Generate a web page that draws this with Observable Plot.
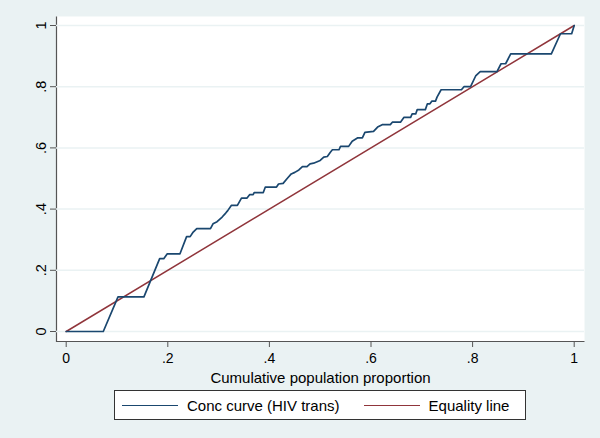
<!DOCTYPE html>
<html>
<head>
<meta charset="utf-8">
<script src="https://cdn.jsdelivr.net/npm/d3@7"></script>
<script src="https://cdn.jsdelivr.net/npm/@observablehq/plot@0.6"></script>
<style>
  html, body { margin: 0; padding: 0; background: #eaf2f3; }
  body { width: 600px; height: 438px; overflow: hidden; position: relative; font-family: "Liberation Sans", Arial, sans-serif; }
  #legend { position: absolute; left: 114px; top: 390px; width: 410px; height: 28px; background: #fff; border: 1px solid #333;
    display: flex; align-items: center; font-size: 15px; color: #000; box-sizing: content-box; white-space: nowrap; }
  #legend .sw { display: inline-block; width: 56px; height: 0; border-top: 1.6px solid; margin-right: 9px; }
  #legend .item { display: flex; align-items: center; }
</style>
</head>
<body>
<div id="chart"></div>
<div id="legend"></div>
<script>
// Concentration curve (HIV trans): cumulative population proportion vs cumulative share
const concX = [0, 0.073, 0.102, 0.153, 0.184, 0.192, 0.199, 0.224, 0.237, 0.244, 0.250, 0.257, 0.284, 0.289, 0.297, 0.307, 0.314, 0.318,
  0.325, 0.337, 0.345, 0.356, 0.361, 0.368, 0.370, 0.388, 0.392, 0.414, 0.418, 0.427, 0.435, 0.443, 0.450, 0.458, 0.465, 0.474,
  0.480, 0.487, 0.500, 0.507, 0.514, 0.520, 0.524, 0.537, 0.540, 0.556, 0.563, 0.574, 0.583, 0.588, 0.605, 0.613, 0.622, 0.638,
  0.642, 0.658, 0.665, 0.678, 0.681, 0.688, 0.691, 0.707, 0.711, 0.716, 0.720, 0.727, 0.730, 0.738, 0.778, 0.783, 0.796, 0.806,
  0.815, 0.848, 0.856, 0.865, 0.875, 0.955, 0.973, 0.995, 1];
const concY = [0, 0, 0.113, 0.113, 0.238, 0.238, 0.254, 0.254, 0.310, 0.310, 0.325, 0.336, 0.336, 0.352, 0.359, 0.374, 0.387, 0.395,
  0.412, 0.412, 0.436, 0.436, 0.447, 0.447, 0.454, 0.454, 0.472, 0.472, 0.482, 0.484, 0.500, 0.515, 0.520, 0.528, 0.539, 0.539,
  0.548, 0.550, 0.559, 0.570, 0.572, 0.586, 0.594, 0.594, 0.605, 0.605, 0.622, 0.633, 0.633, 0.651, 0.654, 0.668, 0.676, 0.676,
  0.684, 0.684, 0.700, 0.700, 0.711, 0.711, 0.725, 0.725, 0.744, 0.744, 0.753, 0.753, 0.766, 0.790, 0.790, 0.800, 0.800, 0.835,
  0.849, 0.849, 0.875, 0.875, 0.907, 0.907, 0.973, 0.973, 1];
// Equality line
const eqX = [0, 1];
const eqY = [0, 1];
const tickValues = [0, 0.2, 0.4, 0.6, 0.8, 1];
const tickLabels = ["0", ".2", ".4", ".6", ".8", "1"];
const seriesNames = ["Conc curve (HIV trans)", "Equality line"];
const seriesColors = ["#1a476f", "#90353b"];

const conc = concX.map((x, i) => ({x, y: concY[i]}));
const eq = eqX.map((x, i) => ({x, y: eqY[i]}));
const fmt = d => tickLabels[tickValues.indexOf(d)];

const W = 600, H = 438;
const mL = 56, mR = 16, mT = 16, mB = 97;
const plotW = W - mL - mR, plotH = H - mT - mB;

const chart = Plot.plot({
  width: W, height: H,
  marginLeft: mL, marginRight: mR, marginTop: mT, marginBottom: mB,
  style: {background: "transparent", fontFamily: "Liberation Sans, Arial, sans-serif", fontSize: "14px", color: "#000"},
  x: {domain: [0, 1], range: [65.7, 573.7]},
  y: {domain: [0, 1], range: [331, 25]},
  marks: [
    Plot.frame({fill: "white", stroke: "#555", strokeWidth: 1.2, strokeDasharray: `0 ${plotW + plotH} ${plotW + plotH}`}),
    Plot.gridY(tickValues, {stroke: "#eaf2f3", strokeOpacity: 1, strokeWidth: 1.5}),
    Plot.axisY(tickValues, {anchor: "left", tickSize: 6, tickPadding: 5, tickFormat: fmt, tickRotate: -90, stroke: "#555", label: null, fill: "#000", fontSize: 14.5}),
    Plot.axisX(tickValues, {anchor: "bottom", tickSize: 6, tickPadding: 6, tickFormat: fmt, stroke: "#555", fill: "#000", fontSize: 14,
      label: "Cumulative population proportion", labelAnchor: "center", labelOffset: 41, labelArrow: false}),
    Plot.line(eq, {x: "x", y: "y", stroke: seriesColors[1], strokeWidth: 1.5}),
    Plot.line(conc, {x: "x", y: "y", stroke: seriesColors[0], strokeWidth: 1.7, curve: "linear"})
  ]
});
document.getElementById("chart").appendChild(chart);
chart.querySelectorAll("text").forEach(t => { if (t.textContent.startsWith("Cumulative")) t.setAttribute("font-size", "15"); });

const legend = document.getElementById("legend");
seriesNames.forEach((name, i) => {
  const item = document.createElement("div");
  item.className = "item";
  item.style.marginLeft = i === 0 ? "7px" : "24px";
  const sw = document.createElement("span");
  sw.className = "sw";
  sw.style.borderTopColor = seriesColors[i];
  const t = document.createElement("span");
  t.textContent = name;
  item.appendChild(sw);
  item.appendChild(t);
  legend.appendChild(item);
});
</script>
</body>
</html>
